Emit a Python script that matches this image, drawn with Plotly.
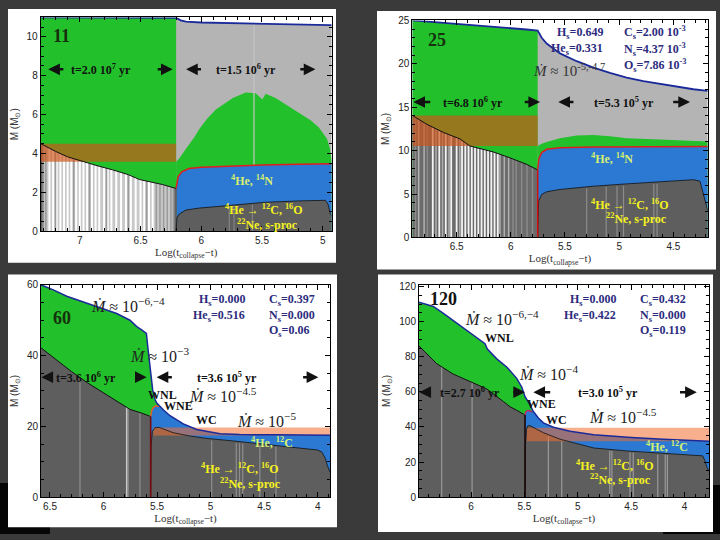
import numpy as np
import plotly.graph_objects as go

# ================= DATA =================
# ---- Panel 1 : 11 Msun ----
p1_total_x = [7.322, 7.0, 6.6, 6.3, 6.207, 6.17, 6.126, 6.0, 5.88, 5.7, 5.47, 5.2, 4.94, 4.926]
p1_total_y = [11.0, 11.0, 11.0, 10.99, 10.98, 10.85, 10.78, 10.74, 10.72, 10.69, 10.67, 10.63, 10.6, 10.6]
p1_core_x = [7.322, 7.2, 7.1, 6.97, 6.85, 6.73, 6.6, 6.508, 6.4, 6.317, 6.207]
p1_core_y = [4.5, 4.1, 3.82, 3.57, 3.35, 3.15, 2.9, 2.65, 2.5, 2.39, 2.19]
p1_band_x = [7.322, 6.207]
p1_band_y = [3.57, 4.49]
p1_bump_x = [6.207, 6.18, 6.126, 6.06, 6.016, 5.95, 5.88, 5.8, 5.74, 5.634, 5.552, 5.497, 5.47,
             5.388, 5.3, 5.197, 5.1, 5.033, 4.965, 4.94, 4.926]
p1_bump_y = [3.57, 3.75, 4.24, 4.8, 5.25, 5.8, 6.26, 6.6, 6.85, 7.14, 7.1, 6.77, 7.07,
             6.85, 6.5, 6.1, 5.7, 5.34, 4.75, 4.24, 3.6]
p1_he_x = [6.207, 6.2, 6.19, 6.16, 6.1, 6.0, 5.8, 5.5, 5.2, 4.926]
p1_he_y = [2.19, 2.55, 2.8, 3.05, 3.22, 3.28, 3.34, 3.4, 3.44, 3.47]
p1_dark_x = [6.207, 6.2, 6.18, 6.16, 6.126, 6.016, 5.74, 5.47, 5.197, 4.978, 4.956, 4.937, 4.926]
p1_dark_y = [0.0, 0.7, 0.88, 0.96, 1.08, 1.18, 1.35, 1.48, 1.55, 1.58, 1.38, 0.88, 0.8]
p1_str_white = [7.25, 7.22, 7.19, 7.16, 7.13, 7.10, 7.07, 7.03, 7.00, 6.97, 6.94, 6.90, 6.87,
                6.84, 6.80, 6.77, 6.74, 6.70, 6.66, 6.62, 6.58, 6.54, 6.50, 6.47, 6.43, 6.40]
p1_str_gray = [7.30, 7.28, 7.20, 7.05, 6.92, 6.78, 6.60, 6.45, 6.37, 6.34, 6.31, 6.28, 6.25, 6.23]
p1_str_dark = [7.315, 6.213, 6.21]
p1_str_core = [5.77, 5.73, 5.58]

# ---- Panel 2 : 25 Msun ----
p2_total_x = [6.909, 6.469, 6.162, 5.854, 5.752, 5.715, 5.669, 5.546, 5.392, 5.238, 5.085,
              4.931, 4.777, 4.623, 4.469, 4.315, 4.183]
p2_total_y = [25.0, 24.59, 24.25, 23.95, 23.83, 23.0, 22.33, 21.2, 20.3, 19.55, 18.95,
              18.42, 18.0, 17.67, 17.37, 17.07, 16.88]
p2_core_x = [6.909, 6.777, 6.623, 6.469, 6.377, 6.162, 6.008, 5.854, 5.752]
p2_core_y = [14.06, 13.05, 12.1, 11.35, 10.53, 9.85, 9.17, 8.42, 7.78]
p2_band_x = [6.909, 5.752]
p2_band_y = [10.53, 14.06]
p2_bump_x = [5.752, 5.715, 5.669, 5.546, 5.392, 5.238, 5.085, 4.931, 4.623, 4.315, 4.183]
p2_bump_y = [10.53, 10.79, 10.98, 11.43, 11.73, 11.8, 11.65, 11.43, 11.28, 11.17, 11.05]
p2_he_x = [5.752, 5.74, 5.715, 5.669, 5.546, 5.238, 4.183]
p2_he_y = [7.78, 9.1, 9.77, 10.15, 10.34, 10.41, 10.49]
p2_dark_x = [5.752, 5.743, 5.715, 5.669, 5.546, 5.238, 4.931, 4.623, 4.315, 4.254, 4.223, 4.183]
p2_dark_y = [0.0, 4.21, 4.96, 5.26, 5.53, 5.9, 6.17, 6.39, 6.65, 6.47, 4.96, 3.08]
p2_str_white = [6.72, 6.66, 6.60, 6.55, 6.50, 6.45, 6.42, 6.39, 6.36, 6.33, 6.30, 6.27, 6.24,
                6.21, 6.18, 6.15, 6.12]
p2_str_gray = [6.85, 6.80, 6.69, 6.63, 6.57, 6.47, 6.10, 6.06, 6.02]
p2_str_dark = [6.88, 6.77, 5.98, 5.95, 5.90, 5.85, 5.80]
p2_str_core = [5.30, 5.12, 5.02, 4.96, 4.68, 4.65]

# ---- Panel 3 : 60 Msun ----
p3_total_x = [6.584, 6.469, 6.344, 6.189, 6.033, 5.877, 5.753, 5.69, 5.644, 5.6, 5.585, 5.575,
              5.56, 5.541, 5.519, 5.503, 5.44, 5.379, 5.255, 5.13, 4.912, 4.73, 4.42, 4.1, 3.885]
p3_total_y = [60.0, 58.6, 56.8, 55.1, 53.4, 51.9, 50.0, 48.2, 47.3, 46.3, 42.0, 39.5,
              34.9, 30.3, 27.6, 26.6, 24.6, 23.0, 20.7, 19.1, 17.9, 17.7, 17.6, 17.5, 17.5]
p3_core_x = [6.584, 6.44, 6.3, 6.15, 6.0, 5.88, 5.753, 5.65, 5.582, 5.56]
p3_core_y = [42.2, 38.8, 35.5, 32.3, 29.5, 27.3, 24.8, 23.8, 23.1, 22.8]
p3_he_x = [5.56, 5.55, 5.535, 5.515, 5.48]
p3_he_y = [22.8, 24.5, 25.3, 25.8, 25.6]
p3_dark_x = [5.56, 5.555, 5.545, 5.52, 5.48, 5.44, 5.35, 5.2, 5.04, 4.8, 4.6, 4.4, 4.2, 4.0,
             3.96, 3.93, 3.91, 3.885]
p3_dark_y = [0.0, 15.0, 18.5, 19.6, 19.7, 19.2, 18.2, 17.3, 16.6, 15.9, 15.3, 14.7, 14.0, 13.3,
             12.7, 11.0, 9.0, 7.0]
p3_band_x = [5.535, 3.885]
p3_band_y = [17.4, 19.7]
p3_str_gray = [6.22, 5.77, 5.66]
p3_str_white = [5.784]
p3_str_core = [4.99, 4.76, 4.73, 4.70, 4.54, 4.39]

# ---- Panel 4 : 120 Msun ----
p4_total_x = [6.4875, 6.416, 6.353, 6.259, 6.103, 5.978, 5.884, 5.869, 5.847, 5.759, 5.666,
              5.572, 5.525, 5.494, 5.447, 5.416, 5.369, 5.322, 5.228, 5.072, 4.85, 4.7, 4.5,
              4.2, 3.77]
p4_total_y = [111.1, 109.7, 108.7, 104.7, 97.8, 92.7, 88.6, 87.5, 84.4, 78.8, 74.2,
              67.7, 62.8, 57.2, 52.6, 48.8, 45.1, 42.3, 39.8, 37.5, 35.5, 34.8, 34.0,
              33.0, 31.8]
p4_core_x = [6.4875, 6.322, 6.166, 6.009, 5.853, 5.697, 5.634, 5.572, 5.494]
p4_core_y = [86.2, 76.1, 70.1, 65.9, 61.7, 54.5, 51.5, 49.5, 46.8]
p4_he_x = [5.494, 5.487, 5.47, 5.45, 5.425]
p4_he_y = [46.8, 48.5, 49.3, 49.2, 48.5]
p4_dark_x = [5.494, 5.49, 5.48, 5.47, 5.45, 5.322, 5.166, 5.01, 4.85, 4.54, 4.23, 3.92, 3.83,
             3.81, 3.79, 3.77]
p4_dark_y = [0.0, 30.0, 38.5, 40.5, 40.8, 36.7, 33.0, 30.5, 28.0, 26.3, 25.0, 24.0, 23.5,
             21.0, 17.0, 15.0]
p4_band_x = [5.478, 3.77]
p4_band_y = [31.8, 39.5]
p4_str_gray = [6.275, 5.99]
p4_str_core = [5.275, 5.15, 4.70, 4.68, 4.51, 4.48, 4.25, 4.18, 4.16]

# ================= STYLE =================
GREEN = '#22c02a'
ENV = '#b4b4b4'
BLUE = '#2b79d2'
DARK = '#5e5e5e'
SERIF = 'Liberation Serif'

fig = go.Figure()


def axn(i):
    return ('x' if i == 1 else 'x%d' % i), ('y' if i == 1 else 'y%d' % i)


def area(i, x, y, color):
    xa, ya = axn(i)
    x = list(x)
    y = list(y)
    fig.add_trace(go.Scatter(x=x + [x[-1], x[0], x[0]], y=y + [0, 0, y[0]], mode='lines',
                             fill='toself', fillcolor=color, line=dict(width=0),
                             xaxis=xa, yaxis=ya, hoverinfo='skip', showlegend=False))


def rect(i, bx, by, color):
    xa, ya = axn(i)
    fig.add_trace(go.Scatter(x=[bx[0], bx[1], bx[1], bx[0], bx[0]],
                             y=[by[0], by[0], by[1], by[1], by[0]], mode='lines',
                             fill='toself', fillcolor=color, line=dict(width=0),
                             xaxis=xa, yaxis=ya, hoverinfo='skip', showlegend=False))


def line(i, x, y, color, width):
    xa, ya = axn(i)
    fig.add_trace(go.Scatter(x=list(x), y=list(y), mode='lines',
                             line=dict(color=color, width=width),
                             xaxis=xa, yaxis=ya, hoverinfo='skip', showlegend=False))


def stripes(i, xs, top_x, top_y, color, width, frac=1.0):
    xa, ya = axn(i)
    tops = np.interp(xs, np.array(top_x)[::-1], np.array(top_y)[::-1]) * frac
    X, Y = [], []
    for xv, t in zip(xs, tops):
        X += [xv, xv, None]
        Y += [0, float(t), None]
    fig.add_trace(go.Scatter(x=X, y=Y, mode='lines', line=dict(color=color, width=width),
                             xaxis=xa, yaxis=ya, hoverinfo='skip', showlegend=False))


def blue_top(hx, hy, tx, ty):
    tx = np.array(tx)
    ty = np.array(ty)
    m = tx < hx[-1]
    return list(hx) + list(tx[m]), list(hy) + list(ty[m])


# ---- Panel 1 ----
area(1, p1_total_x, p1_total_y, ENV)
m = np.array(p1_total_x) >= p1_core_x[-1]
area(1, np.array(p1_total_x)[m], np.array(p1_total_y)[m], GREEN)
area(1, p1_bump_x, p1_bump_y, GREEN)
stripes(1, [5.566], p1_total_x, p1_total_y, '#c4c4c4', 1.2)
area(1, p1_he_x, p1_he_y, BLUE)
area(1, p1_dark_x, p1_dark_y, DARK)
stripes(1, p1_str_core, p1_dark_x, p1_dark_y, '#8c8c8c', 1, 0.95)
area(1, p1_core_x, p1_core_y, '#c8c8c8')
stripes(1, p1_str_white, p1_core_x, p1_core_y, '#ffffff', 2)
stripes(1, p1_str_gray, p1_core_x, p1_core_y, '#9a9a9a', 1.5)
stripes(1, p1_str_dark, p1_core_x, p1_core_y, '#606060', 2)
rect(1, p1_band_x, p1_band_y, 'rgba(205,85,25,0.68)')
line(1, p1_core_x, p1_core_y, '#111111', 1)
line(1, p1_dark_x, p1_dark_y, '#111111', 0.8)
line(1, p1_he_x, p1_he_y, '#e01e1e', 1.5)
line(1, p1_total_x, p1_total_y, '#1b2a9a', 1.8)

# ---- Panel 2 ----
area(2, p2_total_x, p2_total_y, ENV)
m = np.array(p2_total_x) >= p2_core_x[-1]
area(2, np.array(p2_total_x)[m], np.array(p2_total_y)[m], GREEN)
area(2, p2_bump_x, p2_bump_y, GREEN)
area(2, p2_he_x, p2_he_y, BLUE)
area(2, p2_dark_x, p2_dark_y, DARK)
stripes(2, p2_str_core, p2_dark_x, p2_dark_y, '#8c8c8c', 1.2, 0.97)
area(2, p2_core_x, p2_core_y, '#6b6b6b')
stripes(2, p2_str_white, p2_core_x, p2_core_y, '#f4f4f4', 1.8)
stripes(2, p2_str_gray, p2_core_x, p2_core_y, '#b0b0b0', 1.5)
stripes(2, p2_str_dark, p2_core_x, p2_core_y, '#8a8a8a', 1.5)
rect(2, p2_band_x, p2_band_y, 'rgba(205,85,25,0.68)')
line(2, p2_core_x, p2_core_y, '#111111', 1)
line(2, p2_dark_x, p2_dark_y, '#111111', 0.8)
line(2, p2_he_x, p2_he_y, '#e01e1e', 1.5)
line(2, [p2_core_x[-1], p2_core_x[-1]], [0, p2_core_y[-1]], '#d01010', 1.5)
line(2, p2_total_x, p2_total_y, '#1b2a9a', 1.8)

# ---- Panel 3 ----
area(3, p3_total_x, p3_total_y, GREEN)
area(3, p3_core_x, p3_core_y, DARK)
stripes(3, p3_str_gray, p3_core_x, p3_core_y, '#8e8e8e', 1.2)
stripes(3, p3_str_white, p3_core_x, p3_core_y, '#c8c8c8', 1.5)
bx, by = blue_top(p3_he_x, p3_he_y, p3_total_x, p3_total_y)
area(3, bx, by, BLUE)
area(3, p3_dark_x, p3_dark_y, DARK)
stripes(3, p3_str_core, p3_dark_x, p3_dark_y, '#8e8e8e', 1.2, 0.97)
rect(3, p3_band_x, p3_band_y, 'rgba(240,110,50,0.55)')
line(3, p3_core_x, p3_core_y, '#111111', 1)
line(3, p3_dark_x, p3_dark_y, '#111111', 0.8)
line(3, p3_he_x, p3_he_y, '#e0602a', 1.5)
line(3, [p3_core_x[-1], p3_core_x[-1]], [0, p3_core_y[-1]], '#7a0a0a', 1.6)
line(3, p3_total_x, p3_total_y, '#1b2a9a', 1.5)

# ---- Panel 4 ----
area(4, p4_total_x, p4_total_y, GREEN)
area(4, p4_core_x, p4_core_y, DARK)
stripes(4, p4_str_gray, p4_core_x, p4_core_y, '#9a9a9a', 1.2)
bx, by = blue_top(p4_he_x, p4_he_y, p4_total_x, p4_total_y)
area(4, bx, by, BLUE)
area(4, p4_dark_x, p4_dark_y, DARK)
stripes(4, p4_str_core, p4_dark_x, p4_dark_y, '#9a9a9a', 1.2, 0.97)
rect(4, p4_band_x, p4_band_y, 'rgba(240,110,50,0.55)')
line(4, p4_core_x, p4_core_y, '#111111', 1)
line(4, p4_dark_x, p4_dark_y, '#111111', 0.8)
line(4, p4_he_x, p4_he_y, '#c02a6a', 1.5)
line(4, [p4_core_x[-1], p4_core_x[-1]], [0, p4_core_y[-1]], '#1a0505', 1.6)
line(4, p4_total_x, p4_total_y, '#1b2a9a', 1.5)

# ================= ANNOTATIONS =================
ann = []


def txt(i, text, x, y, size=12, color='#111111', xanchor='center', family=SERIF):
    xa, ya = axn(i)
    ann.append(dict(text=text, x=x, y=y, xref=xa, yref=ya, showarrow=False, xanchor=xanchor,
                    yanchor='middle', font=dict(family=family, size=size, color=color)))


def arrow(i, head, tail, y):
    xa, ya = axn(i)
    ann.append(dict(text='', x=head, y=y, ax=tail, ay=y, xref=xa, yref=ya, axref=xa, ayref=ya,
                    showarrow=True, arrowhead=2, arrowsize=0.9, arrowwidth=2.6,
                    arrowcolor='#111111'))


NAVY = '#2c2c7e'
YEL = '#f4f21e'
YG = '#d6f070'
MD = '<i>Ṁ</i> ≈ 10<sup>%s</sup>'

# panel 1
txt(1, '<b>11</b>', 7.15, 10.05, 18, '#16300e')
txt(1, '<b>t=2.0 10<sup>7</sup> yr</b>', 6.822, 8.33, 12)
arrow(1, 7.26, 7.123, 8.33)
arrow(1, 6.235, 6.371, 8.33)
txt(1, '<b>t=1.5 10<sup>6</sup> yr</b>', 5.634, 8.33, 12)
arrow(1, 6.125, 5.99, 8.33)
arrow(1, 5.06, 5.197, 8.33)
txt(1, '<b><sup>4</sup>He, <sup>14</sup>N</b>', 5.58, 2.61, 12, YG)
txt(1, '<b><sup>4</sup>He → <sup>12</sup>C, <sup>16</sup>O</b>', 5.48, 1.1, 12, YEL)
txt(1, '<b><sup>22</sup>Ne, s-proc</b>', 5.456, 0.32, 12, YEL)

# panel 2
txt(2, '<b>25</b>', 6.685, 22.7, 18, '#16300e')
txt(2, '<b>H<sub>s</sub>=0.649</b>', 5.13, 23.6, 12, NAVY, 'right')
txt(2, '<b>He<sub>s</sub>=0.331</b>', 5.13, 21.7, 12, NAVY, 'right')
txt(2, '<b>C<sub>s</sub>=2.00 10<sup>-3</sup></b>', 4.977, 23.6, 12, NAVY, 'left')
txt(2, '<b>N<sub>s</sub>=4.37 10<sup>-3</sup></b>', 4.977, 21.7, 12, NAVY, 'left')
txt(2, '<b>O<sub>s</sub>=7.86 10<sup>-3</sup></b>', 4.977, 19.8, 12, NAVY, 'left')
txt(2, MD % '-5,-4.7', 5.815, 19.3, 15, '#333333', 'left')
txt(2, '<b>t=6.8 10<sup>6</sup> yr</b>', 6.346, 15.6, 12)
arrow(2, 6.9, 6.73, 15.6)
arrow(2, 5.73, 5.885, 15.6)
txt(2, '<b>t=5.3 10<sup>5</sup> yr</b>', 4.96, 15.6, 12)
arrow(2, 5.562, 5.408, 15.6)
arrow(2, 4.346, 4.515, 15.6)
txt(2, '<b><sup>4</sup>He, <sup>14</sup>N</b>', 5.069, 9.1, 12, YG)
txt(2, '<b><sup>4</sup>He → <sup>12</sup>C, <sup>16</sup>O</b>', 4.9, 3.83, 12, YEL)
txt(2, '<b><sup>22</sup>Ne, s-proc</b>', 4.84, 2.14, 12, YEL)

# panel 3
txt(3, '<b>60</b>', 6.39, 50.5, 18, '#16300e')
txt(3, MD % '−6,−4', 6.133, 54.2, 16, '#222222', 'left')
txt(3, MD % '−3', 5.768, 40.2, 16, '#222222', 'left')
txt(3, '<b>H<sub>s</sub>=0.000</b>', 4.663, 55.6, 12, NAVY, 'right')
txt(3, '<b>He<sub>s</sub>=0.516</b>', 4.663, 51.2, 12, NAVY, 'right')
txt(3, '<b>C<sub>s</sub>=0.397</b>', 4.476, 55.6, 12, NAVY, 'left')
txt(3, '<b>N<sub>s</sub>=0.000</b>', 4.476, 51.2, 12, NAVY, 'left')
txt(3, '<b>O<sub>s</sub>=0.06</b>', 4.476, 47.0, 12, NAVY, 'left')
txt(3, '<b>t=3.6 10<sup>6</sup> yr</b>', 6.164, 33.9, 12)
arrow(3, 6.58, 6.47, 33.9)
arrow(3, 5.597, 5.72, 33.9)
txt(3, '<b>t=3.6 10<sup>5</sup> yr</b>', 4.85, 33.9, 12)
arrow(3, 5.504, 5.348, 33.9)
arrow(3, 3.994, 4.15, 33.9)
txt(3, '<b>WNL</b>', 5.295, 28.8, 12, xanchor='right')
txt(3, MD % '−4.5', 5.225, 28.8, 16, '#222222', 'left')
txt(3, '<b>WNE</b>', 5.301, 25.8, 12)
txt(3, '<b>WC</b>', 5.037, 21.7, 12)
txt(3, MD % '−5', 4.772, 21.9, 16, '#222222', 'left')
txt(3, '<b><sup>4</sup>He, <sup>12</sup>C</b>', 4.43, 15.4, 12, YG)
txt(3, '<b><sup>4</sup>He → <sup>12</sup>C, <sup>16</sup>O</b>', 4.725, 8.0, 12, YEL)
txt(3, '<b><sup>22</sup>Ne, s-proc</b>', 4.632, 3.9, 12, YEL)

# panel 4
txt(4, '<b>120</b>', 6.26, 113.0, 18, '#111111')
txt(4, MD % '−6,−4', 6.072, 101.9, 16, '#222222', 'left')
txt(4, '<b>WNL</b>', 5.7375, 90.8, 12)
txt(4, MD % '−4', 5.572, 70.9, 16, '#222222', 'left')
txt(4, '<b>H<sub>s</sub>=0.000</b>', 4.619, 112.1, 12, NAVY, 'right')
txt(4, '<b>He<sub>s</sub>=0.422</b>', 4.619, 103.4, 12, NAVY, 'right')
txt(4, '<b>C<sub>s</sub>=0.432</b>', 4.431, 112.1, 12, NAVY, 'left')
txt(4, '<b>N<sub>s</sub>=0.000</b>', 4.431, 103.4, 12, NAVY, 'left')
txt(4, '<b>O<sub>s</sub>=0.119</b>', 4.431, 94.9, 12, NAVY, 'left')
txt(4, '<b>t=2.7 10<sup>6</sup> yr</b>', 6.01, 59.8, 12)
arrow(4, 6.484, 6.369, 59.8)
arrow(4, 5.494, 5.619, 59.8)
txt(4, '<b>t=3.0 10<sup>5</sup> yr</b>', 4.7125, 59.8, 12)
arrow(4, 5.416, 5.244, 59.8)
arrow(4, 3.884, 4.056, 59.8)
txt(4, '<b>WNE</b>', 5.344, 53.0, 12)
txt(4, '<b>WC</b>', 5.197, 44.1, 12)
txt(4, MD % '−4.5', 4.916, 46.5, 16, '#222222', 'left')
txt(4, '<b><sup>4</sup>He, <sup>12</sup>C</b>', 4.166, 29.0, 12, YG)
txt(4, '<b><sup>4</sup>He → <sup>12</sup>C, <sup>16</sup>O</b>', 4.65, 17.9, 12, YEL)
txt(4, '<b><sup>22</sup>Ne, s-proc</b>', 4.6, 10.0, 12, YEL)

# ================= AXES =================
W, H = 720.0, 540.0


def dom_x(a, b):
    return [a / W, b / W]


def dom_y(top, bottom):
    return [1 - bottom / H, 1 - top / H]


def xax(dom, rng, anchor, mdt):
    return dict(domain=dom, range=rng, anchor=anchor, dtick=0.5, tick0=0,
                showline=True, linecolor='black', linewidth=1, mirror='allticks',
                ticks='inside', ticklen=5, tickcolor='black', showgrid=False, zeroline=False,
                minor=dict(ticks='inside', ticklen=3, dtick=mdt, tickcolor='black'),
                tickfont=dict(family='Liberation Sans', size=10, color='#222222'),
                title=dict(text='Log(t<sub>collapse</sub>−t)', standoff=2,
                           font=dict(family=SERIF, size=11, color='#333333')))


def yax(dom, rng, anchor, dt, mdt):
    return dict(domain=dom, range=rng, anchor=anchor, dtick=dt, tick0=0,
                showline=True, linecolor='black', linewidth=1, mirror='allticks',
                ticks='inside', ticklen=5, tickcolor='black', showgrid=False, zeroline=False,
                minor=dict(ticks='inside', ticklen=3, dtick=mdt, tickcolor='black'),
                tickfont=dict(family='Liberation Sans', size=10, color='#222222'),
                title=dict(text='M (M<sub>⊙</sub>)', standoff=6,
                           font=dict(family='Liberation Sans', size=10, color='#333333')))


shapes = []
for (x0, y0, x1, y1, c) in [(0, 488, 50, 540, '#050505'), (663, 490, 720, 540, '#050505'),
                            (8, 4, 336, 263, 'white'), (377, 6, 716, 270, 'white'),
                            (8, 275, 337, 533, 'white'), (378, 275, 713, 538, 'white')]:
    shapes.append(dict(type='rect', xref='paper', yref='paper', x0=x0 / W, x1=x1 / W,
                       y0=1 - y1 / H, y1=1 - y0 / H, fillcolor=c, line=dict(width=0),
                       layer='below'))

fig.update_layout(
    width=720, height=540, margin=dict(l=0, r=0, t=0, b=0),
    paper_bgcolor='#3a3a3a', plot_bgcolor='white', showlegend=False,
    xaxis=xax(dom_x(40.7, 331.7), [7.322, 4.926], 'y', 0.1),
    yaxis=yax(dom_y(12.7, 230.7), [0, 11.0], 'x', 2, 0.5),
    xaxis2=xax(dom_x(412.3, 707.7), [6.909, 4.183], 'y2', 0.1),
    yaxis2=yax(dom_y(15.7, 237.3), [0, 25], 'x2', 5, 1),
    xaxis3=xax(dom_x(41, 330), [6.584, 3.885], 'y3', 0.1),
    yaxis3=yax(dom_y(285.7, 502.3), [0, 60], 'x3', 20, 5),
    xaxis4=xax(dom_x(419, 709), [6.4875, 3.77], 'y4', 0.1),
    yaxis4=yax(dom_y(285.7, 502.3), [0, 121], 'x4', 20, 5),
    annotations=ann, shapes=shapes,
)

fig.write_html('out.html', config={'displayModeBar': False},
               post_script="document.body.style.margin='0';document.body.style.overflow='hidden';")
